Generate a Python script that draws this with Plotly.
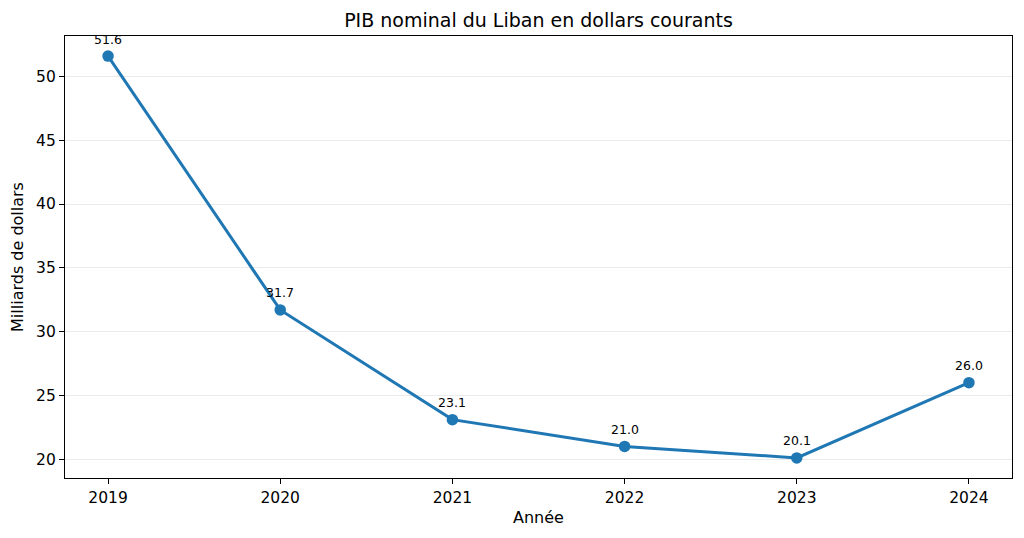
import plotly.graph_objects as go

# --- data ---
years = [2019, 2020, 2021, 2022, 2023, 2024]
gdp_billions = [51.6, 31.7, 23.1, 21.0, 20.1, 26.0]
y_ticks = [20, 25, 30, 35, 40, 45, 50]

blue = '#1f77b4'
font_family = 'DejaVu Sans'

fig = go.Figure()
fig.add_trace(go.Scatter(
    x=years,
    y=gdp_billions,
    mode='lines+markers',
    line=dict(color=blue, width=3),
    marker=dict(color=blue, size=11.5),
    showlegend=False,
    hoverinfo='x+y',
))

# value labels above each point
for yr, val in zip(years, gdp_billions):
    fig.add_annotation(
        x=yr, y=val, text=f'{val:.1f}',
        showarrow=False, yshift=17,
        font=dict(family=font_family, size=12.5, color='black'),
    )

fig.update_layout(
    width=1024,
    height=538,
    plot_bgcolor='white',
    paper_bgcolor='white',
    font=dict(family=font_family, size=15.5, color='black'),
    title=dict(
        text='PIB nominal du Liban en dollars courants',
        xref='paper', x=0.5, xanchor='center', y=0.962, yanchor='middle',
        font=dict(size=19),
    ),
    margin=dict(l=65, r=12, t=36, b=60, autoexpand=False),
    xaxis=dict(
        range=[2018.75, 2024.25],
        tickvals=years,
        showgrid=False, zeroline=False, automargin=False,
        showline=True, mirror=True, linecolor='black', linewidth=1.2,
        ticks='outside', ticklen=5, tickcolor='black',
        title=dict(text='Année', standoff=6, font=dict(size=16)),
    ),
    yaxis=dict(
        range=[18.525, 53.175],
        tickvals=y_ticks,
        showgrid=True, gridcolor='#ebebeb', gridwidth=1,
        zeroline=False, automargin=False,
        showline=True, mirror=True, linecolor='black', linewidth=1.2,
        ticks='outside', ticklen=5, tickcolor='black',
        title=dict(text='Milliards de dollars', standoff=8, font=dict(size=16)),
    ),
)

# drop the browser's default body margin so the figure sits at 0,0
fig.write_html(
    'out.html',
    config={'displayModeBar': False},
    post_script="document.body.style.margin='0';",
)
